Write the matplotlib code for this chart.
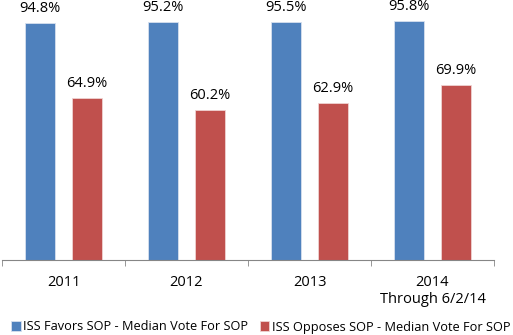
import matplotlib
matplotlib.use("Agg")
import matplotlib.pyplot as plt
import numpy as np

categories = ["2011", "2012", "2013", "2014\nThrough 6/2/14"]
favors = [94.8, 95.2, 95.5, 95.8]
opposes = [64.9, 60.2, 62.9, 69.9]
series_names = ["ISS Favors SOP - Median Vote For SOP",
                "ISS Opposes SOP - Median Vote For SOP"]
colors = ["#4F81BD", "#C0504D"]

plt.rcParams["font.family"] = ["Open Sans", "DejaVu Sans"]

fig = plt.figure(figsize=(5.13, 3.35), dpi=100)
ax = fig.add_axes([2 / 513, 1 - 260 / 335, 492 / 513, 249.7 / 335])

x = np.arange(len(categories))
w = 0.24
off = 0.19
b1 = ax.bar(x - off, favors, w, color=colors[0], edgecolor="#D6E0EE", linewidth=0.6,
            label=series_names[0])
b2 = ax.bar(x + off, opposes, w, color=colors[1], edgecolor="#EFD3D2", linewidth=0.6,
            label=series_names[1])

for bars, vals in ((b1, favors), (b2, opposes)):
    for r, v in zip(bars, vals):
        ax.text(r.get_x() + r.get_width() / 2, v + 5.8, f"{v:.1f}%",
                ha="center", va="center", fontsize=10.5, color="#000000")

ax.set_xlim(-0.5, len(categories) - 0.5)
ax.set_ylim(0, 100)
for s in ("top", "right", "left"):
    ax.spines[s].set_visible(False)
ax.spines["bottom"].set_color("#868686")
ax.set_yticks([])
ax.set_xticks(x)
ax.set_xticklabels(categories, fontsize=10.5, linespacing=1.2)
ax.tick_params(axis="x", which="major", length=0, pad=11)
ax.set_xticks(np.arange(len(categories) + 1) - 0.5, minor=True)
ax.tick_params(axis="x", which="minor", length=4, color="#868686")

fig.legend(handles=[b1, b2], labels=series_names, loc="center left",
           bbox_to_anchor=(11 / 513, 1 - 327 / 335), ncol=2, frameon=False,
           fontsize=9.2, handlelength=0.75, handleheight=0.75, handletextpad=0.2,
           columnspacing=0.9, borderaxespad=0, borderpad=0)

fig.savefig("out.png", dpi=100)
